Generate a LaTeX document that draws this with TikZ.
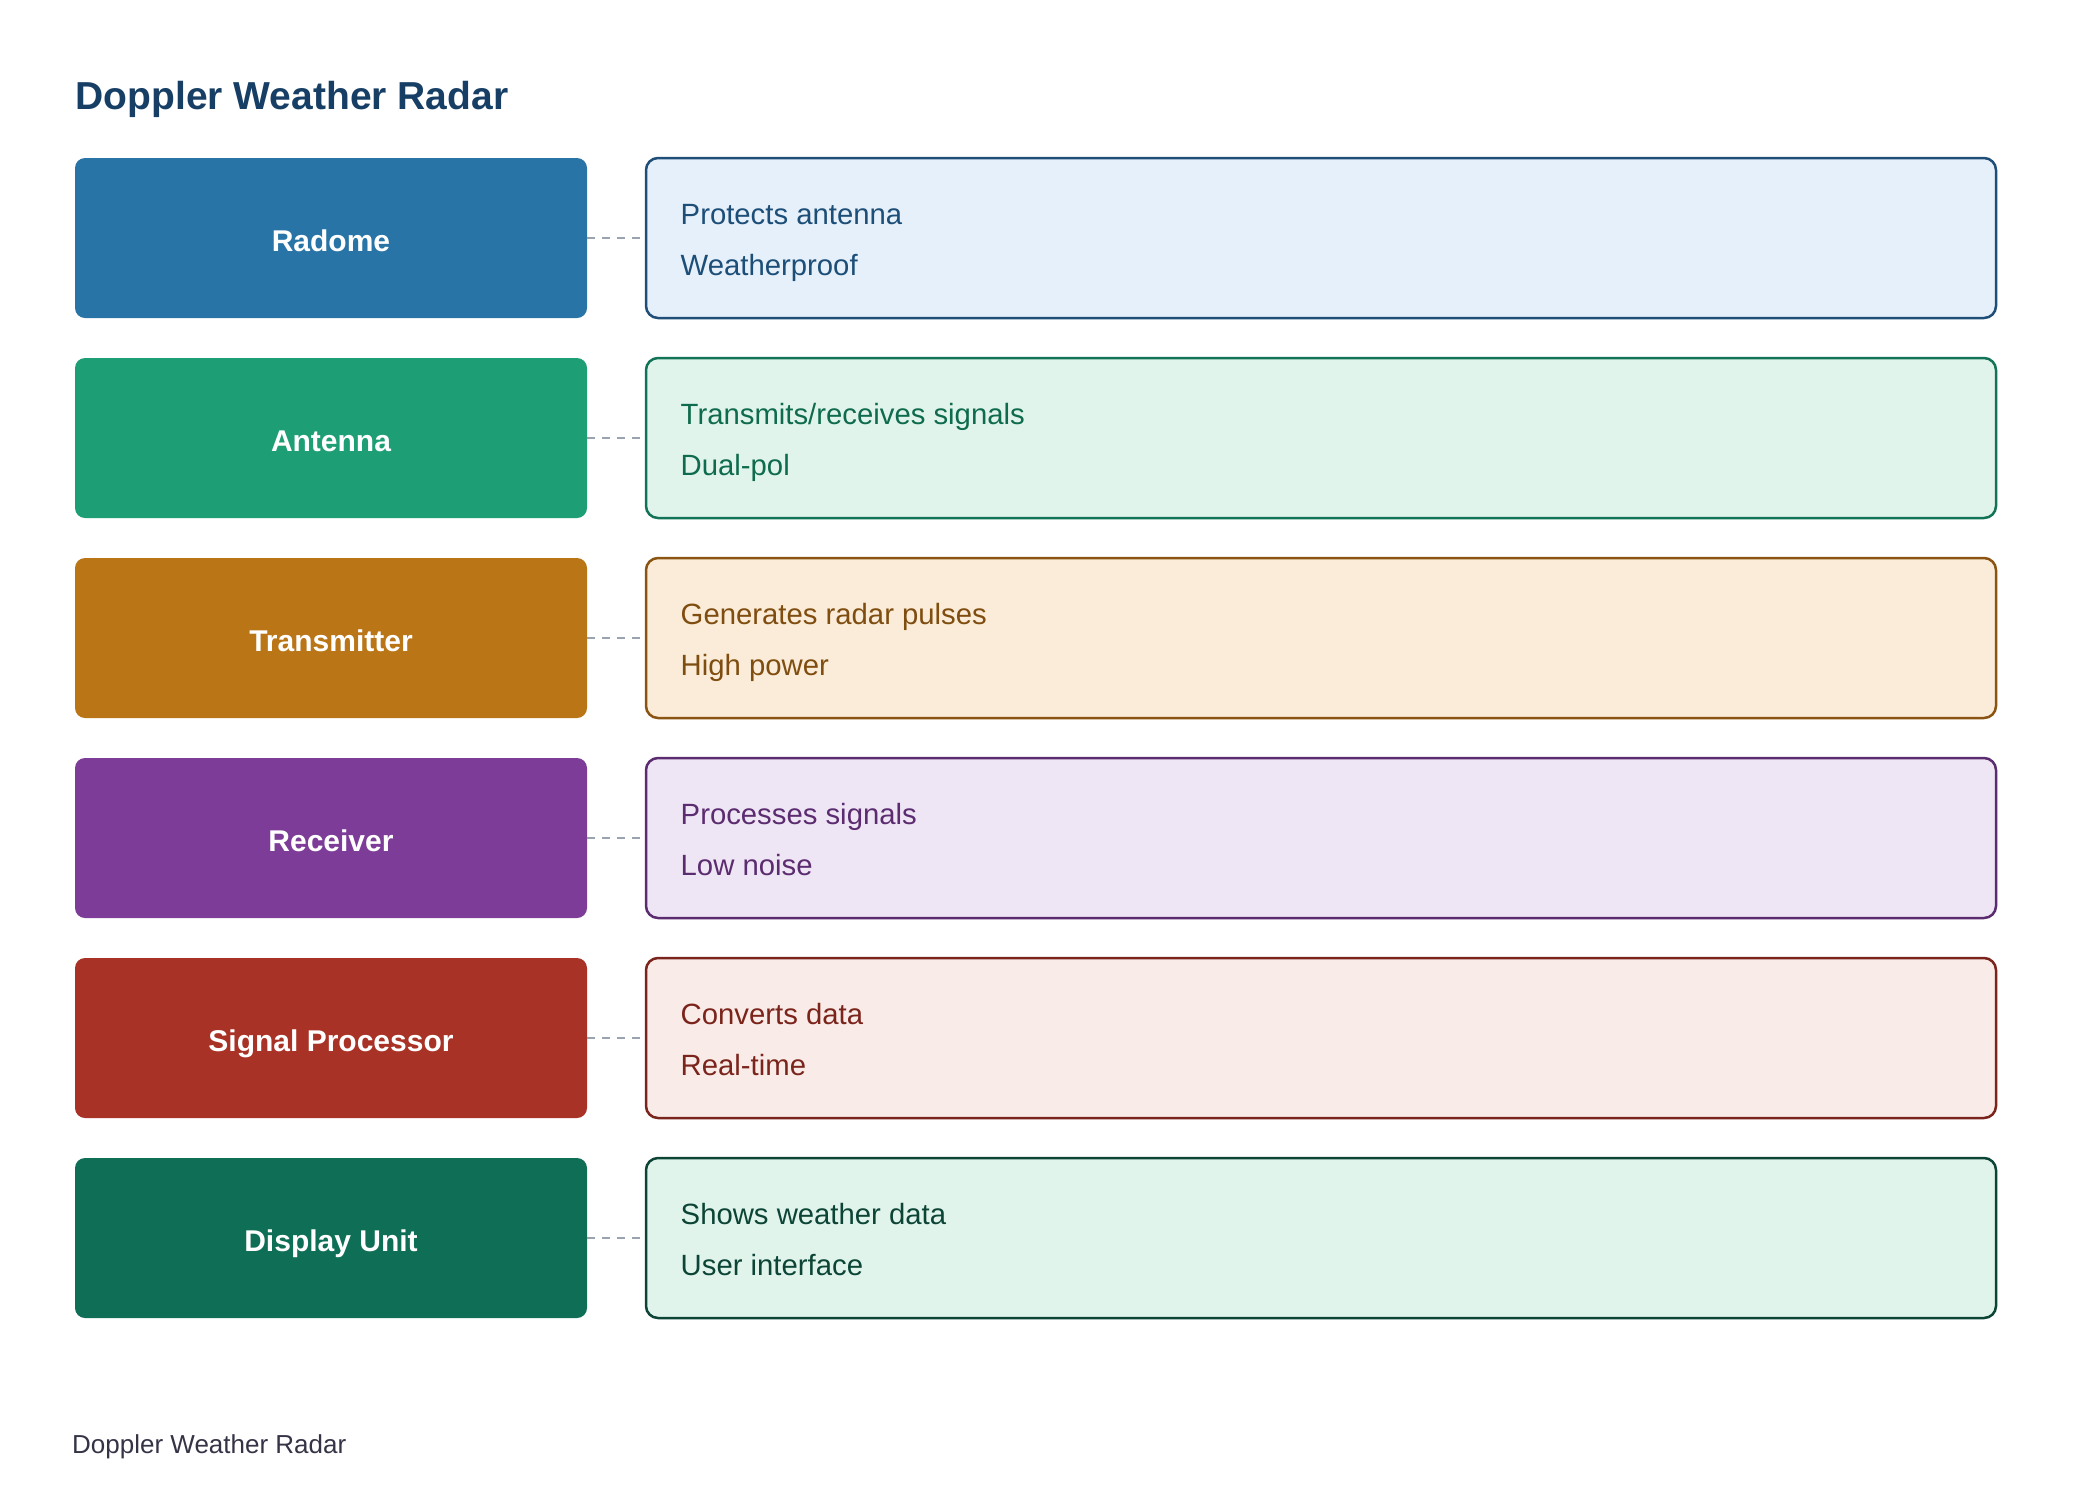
\documentclass[tikz,border=0pt]{standalone}
\usepackage{fontspec}
\setmainfont{Liberation Sans}
\usetikzlibrary{positioning}
\definecolor{titleC}{HTML}{173F66}
\definecolor{footC}{HTML}{343446}
\definecolor{linkC}{HTML}{9AA3B0}
\definecolor{radomeC}{HTML}{2874A6}
\definecolor{radomeBg}{HTML}{E6F0FA}
\definecolor{radomeLn}{HTML}{1F4E79}
\definecolor{radomeTx}{HTML}{1C4E78}
\definecolor{antennaC}{HTML}{1E9E75}
\definecolor{antennaBg}{HTML}{E1F4EC}
\definecolor{antennaLn}{HTML}{137356}
\definecolor{antennaTx}{HTML}{0F6B4D}
\definecolor{transC}{HTML}{BA7517}
\definecolor{transBg}{HTML}{FAECD8}
\definecolor{transLn}{HTML}{8B5413}
\definecolor{transTx}{HTML}{7F4D10}
\definecolor{recvC}{HTML}{7D3C98}
\definecolor{recvBg}{HTML}{EFE6F5}
\definecolor{recvLn}{HTML}{5B2C6F}
\definecolor{recvTx}{HTML}{5B2C6F}
\definecolor{sigC}{HTML}{A93226}
\definecolor{sigBg}{HTML}{F9ECE8}
\definecolor{sigLn}{HTML}{7B241C}
\definecolor{sigTx}{HTML}{7B241C}
\definecolor{dispC}{HTML}{0F6E56}
\definecolor{dispBg}{HTML}{E1F4EC}
\definecolor{dispLn}{HTML}{0C4536}
\definecolor{dispTx}{HTML}{0C4536}
\tikzstyle{part} = [rectangle, rounded corners=10pt, text=white, %
   minimum width=512pt, minimum height=160pt, inner sep=0pt, outer sep=0pt, %
   text height=26pt, text depth=0pt, font=\fontsize{30}{36}\selectfont\bfseries]
\tikzstyle{info} = [rectangle, draw, line width=2.5pt, rounded corners=12pt, %
   minimum width=1350pt, minimum height=160pt, inner sep=0pt, outer sep=0pt]
\tikzstyle{desc} = [anchor=base west, inner sep=0pt, font=\fontsize{29.3}{35}\selectfont]
\tikzstyle{link} = [draw, line width=2.5pt, linkC, dash pattern=on 8pt off 7pt]

\begin{document}
\begin{tikzpicture}
   \useasboundingbox (0pt,0pt) rectangle (2080pt,-1508pt);

   % Title %%%%%%%%%%%%%%%%%%%%%%%%%%%%%%%%%%%%%%%%%%%%%%%%%%%%%%%%%%%%
   \node[anchor=base west, inner sep=0pt, text=titleC, %
      font=\fontsize{39}{45}\selectfont\bfseries](title) at (75.5pt,-109pt){%
      Doppler Weather Radar};

   % Place nodes
   % Radome %%%%%%%%%%%%%%%%%%%%%%%%%%%%%%%%%%%%%%%%%%%%%%%%%%%%%%%%%%%
   \node[part, fill=radomeC](radome) at (331pt,-238pt){Radome};
   \node[info, fill=radomeBg, draw=radomeLn, right=59pt of radome](radomeInfo){};
   \node[desc, text=radomeTx](radomeA) at ([xshift=34.5pt,yshift=14pt]radomeInfo.west){%
      Protects antenna};
   \node[desc, text=radomeTx](radomeB) at ([xshift=34.5pt,yshift=-37pt]radomeInfo.west){%
      Weatherproof};

   % Antenna %%%%%%%%%%%%%%%%%%%%%%%%%%%%%%%%%%%%%%%%%%%%%%%%%%%%%%%%%%
   \node[part, fill=antennaC, below=40pt of radome](antenna){Antenna};
   \node[info, fill=antennaBg, draw=antennaLn, right=59pt of antenna](antennaInfo){};
   \node[desc, text=antennaTx](antennaA) at ([xshift=34.5pt,yshift=14pt]antennaInfo.west){%
      Transmits/receives signals};
   \node[desc, text=antennaTx](antennaB) at ([xshift=34.5pt,yshift=-37pt]antennaInfo.west){%
      Dual-pol};

   % Transmitter %%%%%%%%%%%%%%%%%%%%%%%%%%%%%%%%%%%%%%%%%%%%%%%%%%%%%%
   \node[part, fill=transC, below=40pt of antenna](trans){Transmitter};
   \node[info, fill=transBg, draw=transLn, right=59pt of trans](transInfo){};
   \node[desc, text=transTx](transA) at ([xshift=34.5pt,yshift=14pt]transInfo.west){%
      Generates radar pulses};
   \node[desc, text=transTx](transB) at ([xshift=34.5pt,yshift=-37pt]transInfo.west){%
      High power};

   % Receiver %%%%%%%%%%%%%%%%%%%%%%%%%%%%%%%%%%%%%%%%%%%%%%%%%%%%%%%%%
   \node[part, fill=recvC, below=40pt of trans](recv){Receiver};
   \node[info, fill=recvBg, draw=recvLn, right=59pt of recv](recvInfo){};
   \node[desc, text=recvTx](recvA) at ([xshift=34.5pt,yshift=14pt]recvInfo.west){%
      Processes signals};
   \node[desc, text=recvTx](recvB) at ([xshift=34.5pt,yshift=-37pt]recvInfo.west){%
      Low noise};

   % Signal processor %%%%%%%%%%%%%%%%%%%%%%%%%%%%%%%%%%%%%%%%%%%%%%%%%
   \node[part, fill=sigC, below=40pt of recv](sig){Signal Processor};
   \node[info, fill=sigBg, draw=sigLn, right=59pt of sig](sigInfo){};
   \node[desc, text=sigTx](sigA) at ([xshift=34.5pt,yshift=14pt]sigInfo.west){%
      Converts data};
   \node[desc, text=sigTx](sigB) at ([xshift=34.5pt,yshift=-37pt]sigInfo.west){%
      Real-time};

   % Display unit %%%%%%%%%%%%%%%%%%%%%%%%%%%%%%%%%%%%%%%%%%%%%%%%%%%%%
   \node[part, fill=dispC, below=40pt of sig](disp){Display Unit};
   \node[info, fill=dispBg, draw=dispLn, right=59pt of disp](dispInfo){};
   \node[desc, text=dispTx](dispA) at ([xshift=34.5pt,yshift=14pt]dispInfo.west){%
      Shows weather data};
   \node[desc, text=dispTx](dispB) at ([xshift=34.5pt,yshift=-37pt]dispInfo.west){%
      User interface};

   % Footer %%%%%%%%%%%%%%%%%%%%%%%%%%%%%%%%%%%%%%%%%%%%%%%%%%%%%%%%%%%
   \node[anchor=base west, inner sep=0pt, text=footC, %
      font=\fontsize{26}{30}\selectfont](footer) at (72pt,-1453pt){%
      Doppler Weather Radar};

   % Draw edges
   \path [link] (radome) -- (radomeInfo);
   \path [link] (antenna) -- (antennaInfo);
   \path [link] (trans) -- (transInfo);
   \path [link] (recv) -- (recvInfo);
   \path [link] (sig) -- (sigInfo);
   \path [link] (disp) -- (dispInfo);

\end{tikzpicture}
\end{document}
